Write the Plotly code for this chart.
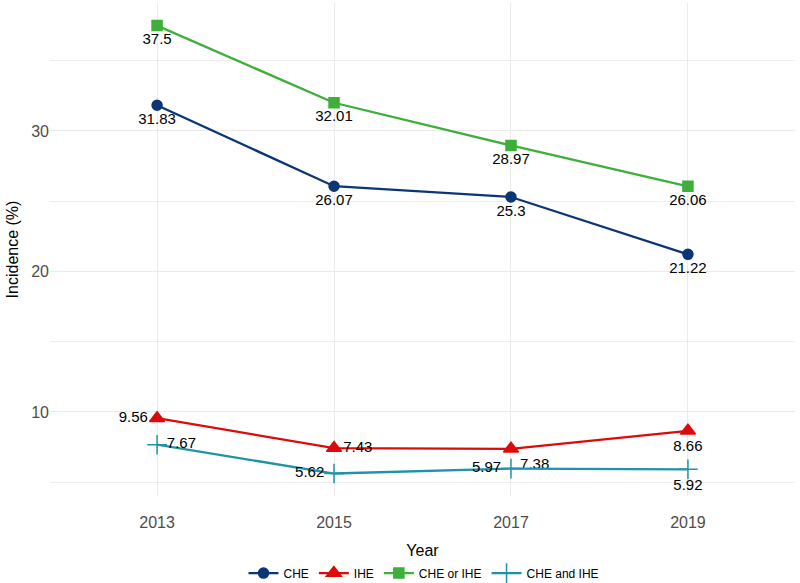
import plotly.graph_objects as go

years = [2013, 2015, 2017, 2019]
che = [31.83, 26.07, 25.3, 21.22]
ihe = [9.56, 7.43, 7.38, 8.66]
che_or_ihe = [37.5, 32.01, 28.97, 26.06]
che_and_ihe = [7.67, 5.62, 5.97, 5.92]

series = [
    dict(name="CHE", y=che, color="#0B3675", symbol="circle", size=10,
         pos=["bottom center"] * 4),
    dict(name="IHE", y=ihe, color="#DD0A0A", symbol="triangle-up", size=13,
         pos=["middle left", "middle right", "bottom right", "bottom center"]),
    dict(name="CHE or IHE", y=che_or_ihe, color="#3DAF3A", symbol="square", size=10,
         pos=["bottom center"] * 4),
    dict(name="CHE and IHE", y=che_and_ihe, color="#1F93A8", symbol="cross-thin", size=14,
         pos=["middle right", "middle left", "middle left", "bottom center"]),
]

fig = go.Figure()
for s in series:
    fig.add_trace(go.Scatter(
        x=years, y=s["y"], name=s["name"], mode="lines+markers+text",
        line=dict(color=s["color"], width=2.3),
        marker=dict(color=s["color"], symbol=s["symbol"], size=s["size"],
                    line=dict(color=s["color"], width=1.5)),
        text=[str(v) for v in s["y"]], textposition=s["pos"],
        textfont=dict(color="black", size=15, family="Liberation Sans"),
        cliponaxis=False,
    ))

fig.update_layout(
    width=800, height=583,
    margin=dict(l=50, r=5, t=3, b=87, autoexpand=False),
    plot_bgcolor="white", paper_bgcolor="white",
    font=dict(family="Liberation Sans", color="black"),
    showlegend=True,
    legend=dict(orientation="h", x=0.53, xanchor="center", xref="container",
                y=0.017, yanchor="middle", yref="container",
                font=dict(size=12, color="black")),
    xaxis=dict(range=[2011.79, 2020.21], tickvals=years, ticktext=[str(y) for y in years],
               showgrid=True, gridcolor="#EBEBEB", gridwidth=1, zeroline=False,
               showline=False, ticks="", tickfont=dict(size=16, color="#4D4D4D"),
               ticklabelstandoff=15, automargin=False,
               title=dict(text="Year", font=dict(size=16, color="black"), standoff=16)),
    yaxis=dict(range=[4.02, 39.11], tickvals=[10, 20, 30],
               showgrid=True, gridcolor="#EBEBEB", gridwidth=1, zeroline=False,
               showline=False, ticks="", tickfont=dict(size=16, color="#4D4D4D"),
               automargin=False,
               minor=dict(tickvals=[5, 15, 25, 35], showgrid=True, gridcolor="#EFEFEF", gridwidth=1),
               title=dict(text="Incidence (%)", font=dict(size=16, color="black"), standoff=8)),
)

fig.write_html("out.html")
